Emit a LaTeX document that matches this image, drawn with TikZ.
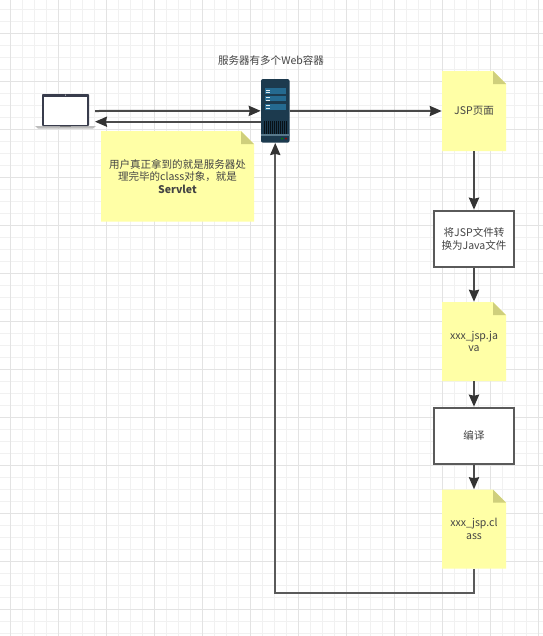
\documentclass[tikz,border=0pt]{standalone}
\usepackage{fontspec}
\setmainfont{Noto Sans CJK SC}
\usetikzlibrary{arrows.meta}
\definecolor{gridminor}{HTML}{F1F1F1}
\definecolor{gridmajor}{HTML}{E3E3E3}
\definecolor{notefill}{HTML}{FFFFA6}
\definecolor{foldfill}{HTML}{CFCF7C}
\definecolor{edgecol}{HTML}{4A4A4A}
\definecolor{tipcol}{HTML}{333333}
\definecolor{boxcol}{HTML}{5A5A5A}
\definecolor{txt}{HTML}{444444}
\definecolor{srvbody}{HTML}{1C3A4E}
\definecolor{srvpanel}{HTML}{256A90}
\definecolor{srvband}{HTML}{58798B}
\definecolor{lapdark}{HTML}{383C4C}
\definecolor{lapbase}{HTML}{BDBDBD}
\tikzset{
  lbl/.style={font=\fontsize{7.9pt}{9.6pt}\selectfont, text=txt, align=center, inner sep=0pt},
  flow/.style={draw=edgecol, line width=1.5pt, -{Stealth[length=9pt,width=7.6pt,inset=0.8pt,color=tipcol]}},
  procbox/.style={draw=boxcol, line width=1.5pt, fill=white, minimum width=60pt, minimum height=42pt, lbl},
  notearea/.style={draw=none, lbl, inner sep=0pt},
}
% x1 y1 x2 y2 in px; name; text
\newcommand{\notecard}[6]{%
  \fill[notefill] (#1,#2) -- (#3-13,#2) -- (#3,#2+13) -- (#3,#4) -- (#1,#4) -- cycle;
  \fill[foldfill] (#3-13,#2) -- (#3,#2+13) -- (#3-13,#2+13) -- cycle;
  \node[notearea, minimum width={(#3-#1)*0.75pt}, minimum height={(#4-#2)*0.75pt}] (#5) at ({(#1+#3)/2},{(#2+#4)/2}) {#6};
}
\begin{document}
\begin{tikzpicture}[x=0.75pt,y=-0.75pt]
\useasboundingbox (0,0) rectangle (543,636);
\fill[white] (0,0) rectangle (543,636);
% grid
\foreach \gx in {10.5,22.5,...,543} \draw[gridminor,line width=0.75pt] (\gx,0) -- (\gx,636);
\foreach \gy in {9.5,21.5,...,636} \draw[gridminor,line width=0.75pt] (0,\gy) -- (543,\gy);
\foreach \gx in {10.5,58.5,...,543} \draw[gridmajor,line width=0.75pt] (\gx,0) -- (\gx,636);
\foreach \gy in {33.5,81.5,...,636} \draw[gridmajor,line width=0.75pt] (0,\gy) -- (543,\gy);
% laptop
\fill[lapbase] (35,126) -- (96,126) -- (93,128.5) -- (38,128.5) -- cycle;
\fill[lapdark,rounded corners=0.6pt] (42,94) rectangle (89,126);
\fill[white] (44,96.5) rectangle (87,125);
\fill[white] (65.5,95.2) circle (0.5);
\fill[gray] (60,126) rectangle (71,127);
\node[draw=none,inner sep=0pt,minimum width=45.75pt,minimum height=26pt] (lap) at (65.5,111) {};
\coordinate (lapA) at (95,111);
\coordinate (lapB) at (95,121.7);
% server
\fill[srvbody,rounded corners=1.5pt] (261,79) rectangle (289.5,142.7);
\fill[srvpanel] (265,88.3) rectangle (285.7,93.7);
\fill[srvpanel] (265,95.7) rectangle (285.7,101.3);
\fill[srvpanel] (265,104) rectangle (285.7,110);
\foreach \dy in {90,92.5,97.5,100,105.5,108.5} \fill[white!85!srvpanel] (265.5,\dy-0.5) rectangle (269.5,\dy+0.5);
\foreach \vx in {263.5,265.5,...,287} \fill[black!70!srvbody] (\vx,121) rectangle (\vx+1,134);
\fill[srvband] (261,134) rectangle (289.5,136);
\fill[green!50!black] (282,138.5) circle (1);
\fill[red!60!black] (286,138.5) circle (1);
\node[draw=none,inner sep=0pt,minimum width=21.4pt,minimum height=47.8pt] (srv) at (275.25,110.85) {};
\coordinate (srvB) at (srv.west |- lapB);
% labels and notes
\node[lbl] (title) at (271,60) {服务器有多个Web容器};
\notecard{101}{131}{254}{221.7}{note}{用户真正拿到的就是服务器处\\理完毕的class对象，就是\\\textbf{Servlet}}
\notecard{442}{71}{506}{151}{jsp}{JSP页面}
\notecard{442}{302}{506}{381}{java}{xxx\_jsp.ja\\va}
\notecard{442}{489.5}{506}{568.7}{cls}{xxx\_jsp.cl\\ass}
\node[procbox] (conv) at (474,238.7) {将JSP文件转\\换为Java文件};
\node[procbox] (comp) at (474,435.7) {编译};
% connectors
\draw[flow] (lapA) -- (srv.west);
\draw[flow,line width=1.2pt] (srvB) -- (lapB);
\draw[flow] (srv.east) -- (jsp.west);
\draw[flow] (jsp.south) -- (conv.north);
\draw[flow] (conv.south) -- (java.north);
\draw[flow] (java.south) -- (comp.north);
\draw[flow] (comp.south) -- (cls.north);
\draw[flow,draw=boxcol] (cls.south) -- (cls.south |- 0,593) -| (srv.south);
\end{tikzpicture}
\end{document}
